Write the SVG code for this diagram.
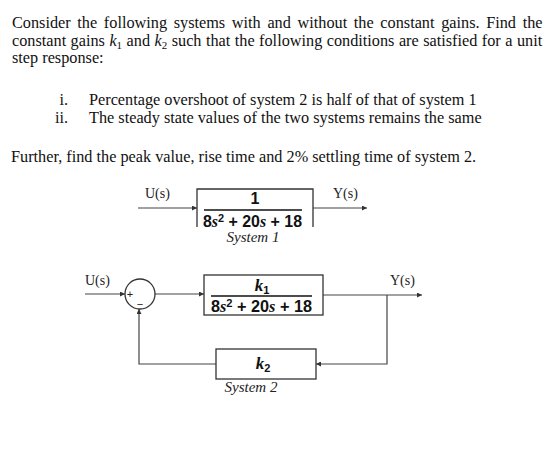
<svg xmlns="http://www.w3.org/2000/svg" width="560" height="453" viewBox="0 0 560 453">
<defs>
<style>
.t{font-family:"Liberation Serif","Times New Roman",serif;font-size:16.25px;fill:#111}
.lab{font-family:"Liberation Serif","Times New Roman",serif;font-size:14px;fill:#222}
.cap{font-family:"Liberation Serif","Times New Roman",serif;font-size:15px;font-style:italic;fill:#222}
.m{font-family:"Liberation Sans",Arial,sans-serif;font-size:16px;font-weight:bold;fill:#111}
.mi{font-family:"Liberation Serif","Times New Roman",serif;font-style:italic;font-weight:bold}
.ln{stroke:#444;stroke-width:1.2;fill:none}
.bx{stroke:#333;stroke-width:1.3;fill:#fff}
</style>
<marker id="ah" viewBox="0 0 6 6" refX="6" refY="3" markerWidth="5" markerHeight="5" orient="auto" markerUnits="userSpaceOnUse">
<path d="M0,0 L6,3 L0,6 Z" fill="#333"/>
</marker>
</defs>

<g id="question">
<text class="t" x="12" y="28" word-spacing="2.6">Consider the following systems with and without the constant gains. Find the</text>
<text class="t" x="12" y="46" word-spacing="0.4">constant gains <tspan font-style="italic">k</tspan><tspan font-size="11" dy="3">1</tspan><tspan dy="-3"> and </tspan><tspan font-style="italic">k</tspan><tspan font-size="11" dy="3">2</tspan><tspan dy="-3"> such that the following conditions are satisfied for a unit</tspan></text>
<text class="t" x="12" y="63">step response:</text>
<text class="t" x="68" y="105" text-anchor="end">i.</text>
<text class="t" x="89" y="105">Percentage overshoot of system 2 is half of that of system 1</text>
<text class="t" x="68" y="123" text-anchor="end">ii.</text>
<text class="t" x="89" y="123">The steady state values of the two systems remains the same</text>
<text class="t" x="11" y="162">Further, find the peak value, rise time and 2% settling time of system 2.</text>
</g>

<g id="connectors">
<path class="ln" d="M138,208 H197" marker-end="url(#ah)"/>
<path class="ln" d="M313,208 H367" marker-end="url(#ah)"/>
<path class="ln" d="M85,294 H125" marker-end="url(#ah)"/>
<path class="ln" d="M155,294 H204" marker-end="url(#ah)"/>
<path class="ln" d="M323,295 H422" marker-end="url(#ah)"/>
<path class="ln" d="M387,295 V364 H316" marker-end="url(#ah)"/>
<path class="ln" d="M216,364 H139 V309" marker-end="url(#ah)"/>
</g>

<g id="system1">
<path class="bx" d="M197,227 V189 H313 V227"/>
<text class="m" x="255" y="204" text-anchor="middle">1</text>
<line x1="204" y1="210" x2="302" y2="210" stroke="#111" stroke-width="1.6"/>
<text class="m" x="203" y="227" textLength="99" lengthAdjust="spacingAndGlyphs">8<tspan class="mi">s</tspan><tspan font-size="11" dy="-5">2</tspan><tspan dy="5"> + 20</tspan><tspan class="mi">s</tspan> + 18</text>
<text class="cap" x="253" y="242" text-anchor="middle">System 1</text>
<text class="lab" x="145" y="198">U(s)</text>
<text class="lab" x="333" y="198">Y(s)</text>
</g>

<g id="sum">
<circle cx="140" cy="294" r="15" class="bx"/>
<text x="130" y="298" font-family="Liberation Sans,Arial,sans-serif" font-size="11" fill="#222" text-anchor="middle">+</text>
<text x="140" y="308" font-family="Liberation Sans,Arial,sans-serif" font-size="11" fill="#222" text-anchor="middle">−</text>
<text class="lab" x="85" y="285">U(s)</text>
</g>

<g id="system2-forward">
<rect class="bx" x="204" y="275" width="119" height="40"/>
<text class="m" x="262" y="291" text-anchor="middle"><tspan class="mi" font-size="17">k</tspan><tspan font-size="11" dy="3">1</tspan></text>
<line x1="211" y1="296" x2="312" y2="296" stroke="#111" stroke-width="1.6"/>
<text class="m" x="211" y="312" textLength="101" lengthAdjust="spacingAndGlyphs">8<tspan class="mi">s</tspan><tspan font-size="11" dy="-5">2</tspan><tspan dy="5"> + 20</tspan><tspan class="mi">s</tspan> + 18</text>
<text class="lab" x="390" y="285">Y(s)</text>
</g>

<g id="system2-feedback">
<rect class="bx" x="216" y="349" width="100" height="30"/>
<text class="m" x="263" y="369" text-anchor="middle"><tspan class="mi" font-size="17">k</tspan><tspan font-size="11" dy="3">2</tspan></text>
<text class="cap" x="251" y="392" text-anchor="middle">System 2</text>
</g>
</svg>
